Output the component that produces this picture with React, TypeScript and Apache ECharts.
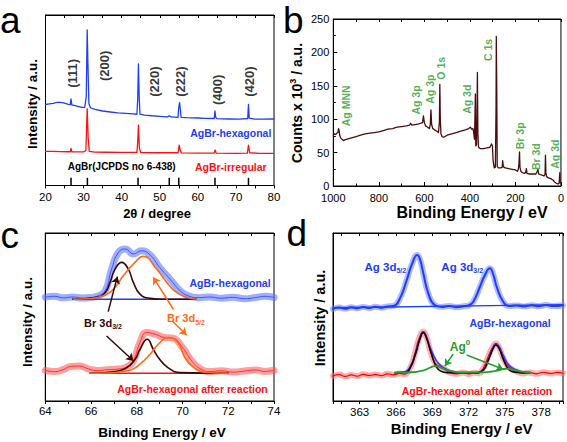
import React, { useEffect, useRef } from 'react';
import * as echarts from 'echarts';

const FONT = "'Liberation Sans', Arial, Helvetica, sans-serif";

// ---------- Panel a : XRD ----------
const xrdHexagonal: [number, number][] = [
  [20, 47.5], [21, 47.9], [22, 48.2], [23, 48.7], [24, 48.8], [25, 48.3], [26, 47.6], [26.5, 47.4],
  [26.7, 50.8], [26.9, 47.3], [27.5, 47.0], [28.5, 46.4], [29.5, 45.8], [30.3, 45.9], [30.7, 52],
  [30.95, 91.3], [31.15, 70], [31.4, 48], [31.8, 45.6], [33, 44.6], [35, 43.7], [37, 43.1], [39, 42.6],
  [41, 42.3], [43, 42.0], [44, 41.8], [44.2, 50], [44.4, 71.3], [44.6, 52], [44.8, 41.8], [46, 41.3],
  [48, 40.9], [50, 40.6], [52, 40.3], [52.5, 40.8], [53, 40.2], [54.8, 40.0], [55.0, 46], [55.2, 48.6],
  [55.4, 45], [55.6, 40.0], [57, 39.8], [60, 39.6], [62, 39.4], [64.3, 39.3], [64.5, 43.7], [64.7, 40],
  [65, 39.2], [68, 39.0], [71, 38.9], [73.1, 39.3], [73.3, 47.6], [73.5, 39.5], [75, 38.9], [77, 38.9], [80, 39.0],
];
const xrdIrregular: [number, number][] = [
  [20, 20.0], [22, 20.0], [24, 19.9], [26, 19.8], [26.5, 19.8], [26.7, 21.8], [26.9, 19.8], [28, 19.7],
  [30, 19.7], [30.6, 20.5], [30.95, 45], [31.2, 28], [31.5, 20.0], [33, 19.6], [36, 19.5], [40, 19.4],
  [44, 19.4], [44.2, 25], [44.4, 35.4], [44.65, 22], [45, 19.3], [50, 19.2], [54.8, 19.2], [55.1, 23.7],
  [55.4, 20.5], [55.7, 19.1], [60, 19.0], [64.3, 19.0], [64.55, 20.8], [64.8, 19.0], [70, 18.9], [73.0, 19.0],
  [73.3, 23.7], [73.6, 19.2], [76, 18.9], [80, 18.9],
];
const jcpdsPositions = [26.7, 31.0, 44.3, 52.5, 55.0, 64.5, 73.3];
const jcpdsHeight = 4.5;
const hklLabels = ['(111)', '(200)', '(220)', '(222)', '(400)', '(420)'];
const hklX = [27.09, 35.41, 48.54, 55.53, 65.16, 73.49];
const hklY = [65.8, 70.2, 60.9, 60.9, 56.1, 60.9];

// ---------- Panel b : XPS survey ----------
const surveySpectrum: [number, number][] = [
  [1000, 76], [995, 78], [990, 77], [985, 79], [980, 80], [977, 86], [975, 84], [972, 76], [968, 72],
  [962, 70], [955, 68], [950, 69], [940, 70], [920, 72], [900, 74], [880, 76], [860, 78], [840, 79],
  [820, 80], [800, 81], [780, 83], [760, 85], [740, 86], [720, 88], [700, 89], [680, 90], [665, 91],
  [660, 94], [655, 91], [640, 92], [625, 93], [615, 94], [608, 95], [604, 105], [600, 95], [595, 90],
  [585, 88], [578, 86], [574, 92], [571, 114], [568, 92], [563, 86], [555, 84], [545, 82], [538, 80],
  [534, 95], [532, 152], [530, 100], [527, 78], [522, 74], [515, 73], [500, 76], [480, 78], [460, 80],
  [440, 82], [420, 84], [405, 86], [398, 88], [392, 85], [387, 86], [384, 82], [380, 70], [378, 100],
  [376, 138], [374, 60], [371, 62], [369, 100], [367, 170], [365, 80], [362, 58], [355, 56], [340, 56],
  [325, 57], [312, 58], [305, 63], [301, 60], [298, 38], [293, 27], [288, 28], [285, 120], [284, 224],
  [282, 150], [280, 30], [275, 27], [265, 27], [258, 28], [256, 38], [253, 29], [245, 27], [230, 26],
  [215, 25], [200, 24], [192, 22], [188, 24], [185, 30], [182, 51], [180, 28], [176, 22], [170, 20],
  [160, 19], [155, 20], [152, 26], [149, 19], [140, 18], [125, 18], [110, 18], [104, 22], [101, 25],
  [98, 18], [90, 17], [80, 16], [75, 15], [70, 17], [68, 46], [66, 20], [63, 14], [55, 12], [45, 11],
  [35, 9], [28, 6], [20, 4], [12, 3], [8, 4], [5, 20], [3, 5], [0, 4],
];
const surveyLabels = ['Ag MNN', 'Ag 3p', 'Ag 3p', 'O 1s', 'Ag 3d', 'C 1s', 'Br 3p', 'Br 3d', 'Ag 3d'];
const surveyLabelX = [945.6, 636.5, 576.2, 528.3, 413.5, 321.5, 180, 110.4, 24.1];
const surveyLabelY = [120, 128.7, 144.9, 176.2, 129.9, 203.6, 75.1, 43.9, 47.6];

// ---------- Panel c : Br 3d ----------
const brHexData: [number, number][] = [
  [64, 61.8], [64.4, 62.3], [64.8, 61.4], [65.2, 61.9], [65.6, 61.3], [66, 61.6], [66.3, 62.6],
  [66.62, 65.6], [66.9, 78.5], [67.2, 88.5], [67.5, 90.5], [67.85, 87.5], [68.2, 89.4], [68.58, 87],
  [69.0, 79.5], [69.45, 72.6], [69.9, 65.6], [70.25, 62.6], [70.7, 61.5], [71.2, 61.9], [71.7, 61.2],
  [72.2, 61.7], [72.7, 60.9], [73.2, 61.6], [73.6, 62.3], [74, 61.6],
];
const brHexBaseline: [number, number][] = [[65.2, 60.6], [70.6, 60.6]];
const brHex32: [number, number][] = [
  [65.2, 60.6], [66.25, 61.7], [66.62, 64.6], [66.83, 70.6], [67.05, 78.5], [67.34, 82.5],
  [67.63, 78.5], [67.85, 70.6], [68.14, 63.6], [68.58, 61.1], [69.2, 60.6], [70.6, 60.6],
];
const brHex52: [number, number][] = [
  [65.23, 60.6], [66.0, 61.0], [66.54, 62.6], [66.98, 66.6], [67.41, 74.5], [67.85, 81.5],
  [68.29, 86.1], [68.87, 78.5], [69.31, 70.6], [69.74, 64.6], [70.18, 61.7], [70.6, 60.6],
];
const brReactData: [number, number][] = [
  [64, 18.2], [64.4, 17.5], [64.8, 18.8], [65.1, 20.6], [65.5, 20.8], [65.9, 19], [66.3, 18.1],
  [66.7, 18.6], [67.2, 19], [67.6, 20.5], [67.85, 23.9], [68.14, 34.8], [68.43, 40.8], [68.8, 39.8],
  [69.2, 37.8], [69.58, 37.4], [70, 31.8], [70.4, 23.9], [70.8, 19], [71.2, 17.5], [71.7, 18],
  [72.2, 17.2], [72.7, 17.8], [73.2, 18.5], [73.6, 17.6], [74, 18.3],
];
const brReactBaseline: [number, number][] = [[65.96, 16.5], [72.0, 16.5]];
const brReact32: [number, number][] = [
  [65.96, 16.5], [66.9, 17.3], [67.5, 19.3], [67.93, 24.9], [68.14, 30.8], [68.46, 36.8],
  [68.72, 30.8], [69.0, 24.9], [69.36, 19.9], [69.9, 16.9], [72.0, 16.5],
];
const brReact52: [number, number][] = [
  [65.96, 16.5], [66.7, 16.7], [67.7, 18.3], [68.14, 21.9], [68.58, 27.8], [68.94, 33.8],
  [69.36, 37.8], [69.8, 34.8], [70.1, 25.9], [70.5, 19.9], [70.9, 17.3], [72.0, 16.5],
];
const brArrows32 = [
  [[66.75, 53.2], [67.15, 74.0]],
  [[66.68, 38.7], [67.85, 24.0]],
];
const brArrows52 = [
  [[69.6, 54.6], [68.72, 73.6]],
  [[69.58, 47.2], [70.18, 39.3]],
];

// ---------- Panel d : Ag 3d ----------
const agHexData: [number, number][] = [
  [360.8, 54.8], [361.3, 55.6], [361.8, 54.9], [362.3, 55.8], [362.8, 55.2], [363.3, 56], [363.8, 55.3],
  [364.3, 56.1], [364.8, 55.5], [365.3, 56.3], [365.78, 56.5], [366.33, 61.1], [366.89, 72], [367.3, 81],
  [367.76, 86.9], [368.0, 84], [368.26, 76], [368.67, 64.1], [369.2, 57.1], [369.8, 56], [370.4, 56.6],
  [371, 55.8], [371.6, 56.4], [372.0, 56.8], [372.39, 59.1], [372.94, 68], [373.35, 75], [373.76, 79],
  [374.05, 75], [374.32, 68], [374.86, 59.1], [375.4, 56.5], [376, 56.9], [376.6, 56.2], [377.2, 57],
  [377.8, 56.4], [378.4, 57.1], [379, 56.5], [379.8, 57],
];
const agHexBaseline: [number, number][] = [[360.8, 55.5], [379.8, 57.3]];
const agReactData: [number, number][] = [
  [360.8, 14.9], [361.3, 15.7], [361.8, 14.6], [362.3, 15.5], [362.8, 14.8], [363.3, 15.9], [363.8, 15.2],
  [364.3, 15.8], [364.8, 15.1], [365.3, 16.2], [365.8, 15.6], [366.3, 16.4], [366.75, 16], [367.16, 19.5],
  [367.57, 28.4], [367.9, 37], [368.26, 41.3], [368.55, 37.5], [368.81, 30.4], [369.22, 22.8], [369.6, 20.5],
  [369.91, 19.5], [370.46, 16.9], [371, 16.2], [371.5, 16.9], [372, 16.1], [372.4, 16.8], [372.8, 16.5],
  [373.21, 19.5], [373.62, 26.4], [373.95, 31.5], [374.26, 34.3], [374.55, 31.5], [374.81, 26.4],
  [375.28, 20.5], [375.97, 17.5], [376.5, 16.4], [377, 17], [377.6, 16.2], [378.2, 17.1], [378.8, 16.4],
  [379.3, 17], [379.8, 16.5],
];
const agReactEnvelope: [number, number][] = [
  [365.9, 16.9], [366.8, 17.6], [367.2, 20.7], [367.6, 28.3], [368.0, 38], [368.26, 41.2], [368.5, 38.6],
  [368.9, 30.5], [369.3, 24.5], [369.7, 21], [370.3, 18.5], [370.8, 17.5], [371.4, 17.0], [372.5, 17.0],
  [373.2, 18.7], [373.6, 24.3], [374.0, 31.5], [374.26, 34], [374.55, 32], [374.9, 26.5], [375.3, 21.5],
  [375.8, 19], [376.3, 17.6], [377.1, 17.0],
];
const agPlusFit: [number, number][] = [
  [365.9, 16.8], [366.8, 17.0], [367.2, 20.0], [367.6, 27.5], [368.0, 37.2], [368.26, 40.7], [368.5, 37.8],
  [368.9, 28.8], [369.3, 20.8], [369.7, 17.8], [370.3, 16.9], [371.4, 16.8], [372.5, 16.8], [373.2, 18.3],
  [373.6, 23.8], [374.0, 30.8], [374.26, 33.3], [374.55, 30.8], [374.9, 24.3], [375.3, 19.0], [375.8, 17.2],
  [377.1, 16.8],
];
const agZeroFit: [number, number][] = [
  [365.9, 16.9], [367.3, 17.1], [368.3, 18.3], [368.8, 19.8], [369.2, 20.8], [369.6, 20.2], [370.1, 18.6],
  [370.8, 17.4], [371.6, 17.0], [372.8, 17.0], [373.8, 17.4], [374.5, 18.3], [375.1, 19.2], [375.7, 18.6],
  [376.3, 17.5], [377.1, 17.0],
];
const agZeroArrows = [
  [[370.73, 28.0], [370.04, 20.8]],
  [[371.84, 27.4], [374.86, 18.9]],
];

// ---------- colours ----------
const BLUE = '#1f3cff';
const RED = '#ff1010';
const MAROON = '#4b0c0c';
const BROWN = '#3a0606';
const ORANGE = '#ff6a14';
const GREEN = '#2a9a2a';

const blk = { color: '#000', width: 1 };
const lbl = (margin: number, size = 11.5) => ({
  show: true, margin, color: '#000', fontSize: size, fontFamily: FONT,
  formatter: (v: number) => String(v),
});

function line(data: any, xi: number, yi: number, color: string, width: number, smooth = false, opacity = 1) {
  return {
    type: 'line', data, xAxisIndex: xi, yAxisIndex: yi, showSymbol: false, symbol: 'none', smooth,
    silent: true, lineStyle: { color, width, opacity, cap: 'round', join: 'round' }, z: 2,
  };
}
function arrows(data: number[][][], xi: number, yi: number, color: string) {
  return {
    type: 'lines', coordinateSystem: 'cartesian2d', xAxisIndex: xi, yAxisIndex: yi, silent: true,
    symbol: ['none', 'arrow'], symbolSize: 7, z: 5,
    lineStyle: { color, width: 1.5, opacity: 1, curveness: 0 },
    data: data.map((c) => ({ coords: c })),
  };
}
function text(x: number, y: number, t: string, size: number, color = '#000', opts: any = {}) {
  return {
    type: 'text', x, y, rotation: opts.rot || 0, silent: true, z: 10,
    style: {
      text: t, fill: color, fontSize: size, fontWeight: opts.weight || 'bold', fontFamily: FONT,
      align: opts.align || 'center', verticalAlign: 'middle', rich: opts.rich,
    },
  };
}
const sub = (color: string, size: number) => ({ s: { fontSize: size, fontWeight: 'bold', fontFamily: FONT, fill: color, padding: [8, 0, 0, 0] } });
const sup = (color: string, size: number) => ({ p: { fontSize: size, fontWeight: 'bold', fontFamily: FONT, fill: color, padding: [0, 0, 8, 0] } });

function buildOption() {
  const xAxis: any[] = [
    // a
    { gridIndex: 0, type: 'value', position: 'bottom', min: 20, max: 80, interval: 10,
      axisLine: { show: true, onZero: false, lineStyle: blk }, axisTick: { show: true, inside: false, length: 3, lineStyle: blk },
      minorTick: { show: true, splitNumber: 2, length: 3, lineStyle: blk }, axisLabel: lbl(5), splitLine: { show: false } },
    { gridIndex: 0, type: 'value', position: 'top', min: 20, max: 80, interval: 10,
      axisLine: { show: true, onZero: false, lineStyle: blk }, axisTick: { show: true, inside: true, length: 3, lineStyle: blk },
      minorTick: { show: true, splitNumber: 2, length: 3, lineStyle: blk }, axisLabel: { show: false }, splitLine: { show: false } },
    // b
    { gridIndex: 1, type: 'value', position: 'bottom', min: 0, max: 1000, interval: 200, inverse: true,
      axisLine: { show: true, onZero: false, lineStyle: blk }, axisTick: { show: true, inside: true, length: 4, lineStyle: blk },
      minorTick: { show: true, splitNumber: 2, length: 2.5, lineStyle: blk }, axisLabel: lbl(6, 11), splitLine: { show: false } },
    { gridIndex: 1, type: 'value', position: 'top', min: 0, max: 1000, interval: 100, inverse: true,
      axisLine: { show: true, onZero: false, lineStyle: blk }, axisTick: { show: true, inside: true, length: 3, lineStyle: blk },
      axisLabel: { show: false }, splitLine: { show: false } },
    // c
    { gridIndex: 2, type: 'value', position: 'bottom', min: 64, max: 74, interval: 2,
      axisLine: { show: true, onZero: false, lineStyle: blk }, axisTick: { show: true, inside: false, length: 3, lineStyle: blk },
      minorTick: { show: true, splitNumber: 2, length: 3, lineStyle: blk }, axisLabel: lbl(4), splitLine: { show: false } },
    { gridIndex: 2, type: 'value', position: 'top', min: 64, max: 74, interval: 2,
      axisLine: { show: true, onZero: false, lineStyle: blk }, axisTick: { show: true, inside: true, length: 3, lineStyle: blk },
      minorTick: { show: true, splitNumber: 2, length: 3, lineStyle: blk }, axisLabel: { show: false }, splitLine: { show: false } },
    // d labels
    { gridIndex: 3, type: 'value', position: 'bottom', min: 360.8, max: 379.8, minInterval: 3, maxInterval: 3, splitNumber: 6,
      axisLine: { show: true, onZero: false, lineStyle: blk }, axisTick: { show: false },
      axisLabel: { ...lbl(5), showMinLabel: false, showMaxLabel: false,
        formatter: (v: number) => (Math.abs(v / 3 - Math.round(v / 3)) < 1e-6 ? String(Math.round(v)) : '') },
      splitLine: { show: false } },
    // d ticks bottom
    { gridIndex: 3, type: 'value', position: 'bottom', min: 360.8, max: 379.8, minInterval: 1.5, maxInterval: 1.5, splitNumber: 13,
      axisLine: { show: false }, axisTick: { show: true, inside: false, length: 3, lineStyle: blk },
      axisLabel: { show: false }, splitLine: { show: false } },
    // d ticks top
    { gridIndex: 3, type: 'value', position: 'top', min: 360.8, max: 379.8, minInterval: 1.5, maxInterval: 1.5, splitNumber: 13,
      axisLine: { show: true, onZero: false, lineStyle: blk }, axisTick: { show: true, inside: true, length: 3, lineStyle: blk },
      axisLabel: { show: false }, splitLine: { show: false } },
  ];
  const plainY = (g: number) => ({
    gridIndex: g, type: 'value', min: 0, max: 100, axisLine: { show: true, onZero: false, lineStyle: blk },
    axisTick: { show: false }, axisLabel: { show: false }, splitLine: { show: false },
  });
  const yAxis: any[] = [
    plainY(0),
    { gridIndex: 1, type: 'value', min: 0, max: 250, interval: 50, axisLine: { show: true, onZero: false, lineStyle: blk },
      axisTick: { show: true, inside: true, length: 4, lineStyle: blk }, minorTick: { show: true, splitNumber: 2, length: 2.5, lineStyle: blk },
      axisLabel: lbl(4, 11), splitLine: { show: false } },
    plainY(2),
    plainY(3),
  ];
  const gridBase = { show: true, borderColor: '#000', borderWidth: 1, backgroundColor: 'transparent', containLabel: false };
  const grid = [
    { ...gridBase, left: 45.5, top: 15, width: 228.5, height: 170.5 },
    { ...gridBase, left: 333.3, top: 19, width: 229.4, height: 167 },
    { ...gridBase, left: 45.3, top: 233, width: 228.7, height: 168 },
    { ...gridBase, left: 333, top: 233, width: 230, height: 168 },
  ];

  const series: any[] = [
    // a
    line(xrdHexagonal, 0, 0, BLUE, 1.3),
    line(xrdIrregular, 0, 0, RED, 1.3),
    { type: 'bar', xAxisIndex: 0, yAxisIndex: 0, barWidth: 1.5, silent: true,
      itemStyle: { color: '#000' }, data: jcpdsPositions.map((p) => [p, jcpdsHeight]) },
    { type: 'scatter', xAxisIndex: 0, yAxisIndex: 0, symbolSize: 0, silent: true, z: 6,
      label: { show: true, position: 'inside', rotate: 90, formatter: '{b}', color: '#000', fontSize: 13, fontWeight: 'bold', fontFamily: FONT },
      data: hklLabels.map((n, i) => ({ name: n, value: [hklX[i], hklY[i]] })) },
    // b
    line(surveySpectrum, 2, 1, MAROON, 1.3),
    { type: 'scatter', xAxisIndex: 2, yAxisIndex: 1, symbolSize: 0, silent: true, z: 6,
      label: { show: true, position: 'inside', rotate: 90, formatter: '{b}', color: GREEN, fontSize: 10.5, fontWeight: 'bold', fontFamily: FONT },
      data: surveyLabels.map((n, i) => ({ name: n, value: [surveyLabelX[i], surveyLabelY[i]] })) },
    // c
    line(brHexData, 4, 2, 'rgba(95,120,255,0.6)', 7, true),
    line(brHexData, 4, 2, '#3a58ff', 1, true),
    line(brHexBaseline, 4, 2, BLUE, 1.5),
    line(brHex32, 4, 2, BROWN, 1.6, true),
    line(brHex52, 4, 2, ORANGE, 1.6, true),
    line(brReactData, 4, 2, 'rgba(255,95,95,0.6)', 7, true),
    line(brReactData, 4, 2, '#ff3030', 1, true),
    line(brReactBaseline, 4, 2, RED, 1.5),
    line(brReact32, 4, 2, BROWN, 1.6, true),
    line(brReact52, 4, 2, ORANGE, 1.6, true),
    arrows(brArrows32, 4, 2, BROWN),
    arrows(brArrows52, 4, 2, ORANGE),
    // d
    line(agHexData, 6, 3, 'rgba(110,130,255,0.55)', 6, true),
    line(agHexData, 6, 3, BLUE, 2, true),
    line(agHexBaseline, 6, 3, BLUE, 1.3),
    line(agReactData, 6, 3, 'rgba(255,110,110,0.55)', 6, true),
    line(agReactData, 6, 3, '#ff0000', 1.2, true),
    line(agReactEnvelope, 6, 3, '#2040ff', 1.6, true),
    line(agPlusFit, 6, 3, '#1a0000', 1.6, true),
    line(agZeroFit, 6, 3, '#22a030', 1.8, true),
    arrows(agZeroArrows, 6, 3, '#22a030'),
  ];

  const graphic = [
    // panel letters
    text(0, 20, 'a', 37, '#000', { weight: 'normal', align: 'left' }),
    text(283, 20, 'b', 37, '#000', { weight: 'normal', align: 'left' }),
    text(0.5, 235, 'c', 37, '#000', { weight: 'normal', align: 'left' }),
    text(286.5, 233, 'd', 37, '#000', { weight: 'normal', align: 'left' }),
    // axis titles
    text(157, 213, '2θ / degree', 13),
    text(32.5, 104, 'Intensity / a.u.', 13.5, '#000', { rot: Math.PI / 2 }),
    text(472, 212, 'Binding Energy / eV', 16),
    text(296.7, 103, 'Counts x 10{p|3} / a.u.', 14, '#000', { rot: Math.PI / 2, rich: sup('#000', 9) }),
    text(162, 432, 'Binding Energy / eV', 13.5),
    text(27.3, 322, 'Intensity / a.u.', 13.5, '#000', { rot: Math.PI / 2 }),
    text(461.7, 428.3, 'Binding Energy / eV', 15),
    text(320, 318, 'Intensity / a.u.', 14.5, '#000', { rot: Math.PI / 2 }),
    // panel a annotations
    text(230.8, 132.7, 'AgBr-hexagonal', 10.5, BLUE),
    text(230.8, 166.7, 'AgBr-irregular', 10.5, RED),
    text(121.7, 166.7, 'AgBr(JCPDS no 6-438)', 10, '#000'),
    // panel c annotations
    text(230, 282.7, 'AgBr-hexagonal', 10.5, BLUE),
    text(103, 322.5, 'Br 3d{s|3/2}', 11, BROWN, { rich: sub(BROWN, 7) }),
    text(186, 318, 'Br 3d{s|5/2}', 11, ORANGE, { rich: sub(ORANGE, 7) }),
    text(192.5, 389.3, 'AgBr-hexagonal after reaction', 10.5, RED),
    // panel d annotations
    text(385.3, 266.7, 'Ag 3d{s|5/2}', 11.5, BLUE, { rich: sub(BLUE, 7) }),
    text(462.2, 266.7, 'Ag 3d{s|3/2}', 11.5, BLUE, { rich: sub(BLUE, 7) }),
    text(510, 323.3, 'AgBr-hexagonal', 10.5, BLUE),
    text(460, 346.5, 'Ag{p|0}', 12, GREEN, { rich: sup(GREEN, 8) }),
    text(477, 390.7, 'AgBr-hexagonal after reaction', 10.5, RED),
  ];

  return { animation: false, backgroundColor: '#fff', grid, xAxis, yAxis, series, graphic };
}

export default function App() {
  const ref = useRef<HTMLDivElement>(null);
  useEffect(() => {
    document.body.style.margin = '0';
    const chart = echarts.init(ref.current!, null, { renderer: 'svg' });
    chart.setOption(buildOption() as any);
    return () => chart.dispose();
  }, []);
  return <div ref={ref} style={{ width: 567, height: 442 }} />;
}
